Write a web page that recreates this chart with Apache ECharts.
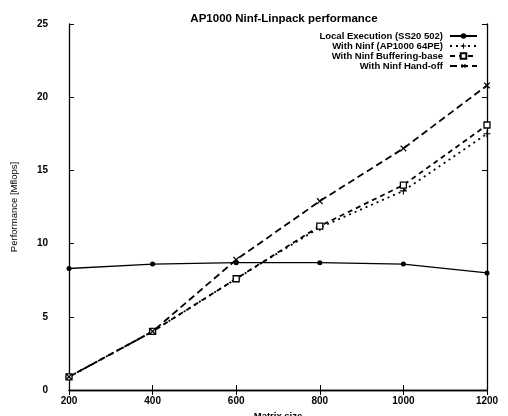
<!DOCTYPE html>
<html><head><meta charset="utf-8">
<script src="https://cdn.jsdelivr.net/npm/echarts@6/dist/echarts.min.js"></script>
<style>html,body{margin:0;padding:0;background:#fff}#c{width:508px;height:416px}</style>
</head><body><div id="c"></div>
<script>
var matrixSizes = [200, 400, 600, 800, 1000, 1200];
var localExec = [8.3, 8.6, 8.7, 8.7, 8.6, 8.0];
var ninfAP1000 = [0.9, 4.0, 7.6, 11.1, 13.6, 17.5];
var ninfBuffering = [0.9, 4.0, 7.6, 11.2, 14.0, 18.1];
var ninfHandoff = [0.9, 4.0, 8.9, 12.9, 16.5, 20.8];
var seriesNames = ['Local Execution (SS20 502)', 'With Ninf (AP1000 64PE)', 'With Ninf Buffering-base', 'With Ninf Hand-off'];

function pairs(v){ return matrixSizes.map(function(x,i){ return [x, v[i]]; }); }
var plus = 'path://M4.2,0h1.6v4.2h4.2v1.6h-4.2v4.2h-1.6v-4.2h-4.2v-1.6h4.2z';
var font = 'Liberation Sans';
var chart = echarts.init(document.getElementById('c'));
var axisLine = {show:true, lineStyle:{color:'#000', width:1.3}};
chart.setOption({
  animation:false,
  textStyle:{fontFamily:font},
  title:{text:'AP1000 Ninf-Linpack performance', left:279, textAlign:'center', top:8,
    textStyle:{fontFamily:font, fontSize:11.5, fontWeight:'bold', color:'#000'}},
  legend:{orient:'vertical', right:25, top:26, align:'right', itemWidth:27, itemHeight:7, itemGap:0,
    textStyle:{fontFamily:font, fontSize:9.5, lineHeight:9.7, fontWeight:'bold', color:'#000', padding:[0,2,0,0]},
    data:seriesNames},
  grid:{left:69, right:21, top:24, bottom:26, outerBoundsMode:'none', containLabel:false},
  xAxis:[{type:'value', min:200, max:1200, interval:200, name:'Matrix size', nameLocation:'middle', nameGap:18,
    nameTextStyle:{fontFamily:font, fontSize:9.5, fontWeight:'bold', color:'#000'},
    axisLine:axisLine, axisTick:{inside:true, length:5, lineStyle:{color:'#000'}},
    axisLabel:{fontFamily:font, fontSize:10, fontWeight:'bold', color:'#000', margin:6,
      formatter:function(v){ return String(v); }},
    splitLine:{show:false}},
    {type:'value', position:'top', min:200, max:1200, interval:200,
    axisLine:axisLine, axisTick:{inside:true, length:5, lineStyle:{color:'#000'}},
    axisLabel:{show:false}, splitLine:{show:false}}],
  yAxis:[{type:'value', min:0, max:25, interval:5, name:'Performance [Mflops]', nameLocation:'middle', nameGap:50,
    nameTextStyle:{fontFamily:font, fontSize:9.5, color:'#000'},
    axisLine:axisLine, axisTick:{inside:true, length:5, lineStyle:{color:'#000'}},
    axisLabel:{fontFamily:font, fontSize:10, fontWeight:'bold', color:'#000', margin:21},
    splitLine:{show:false}},
    {type:'value', position:'right', min:0, max:25, interval:5,
    axisLine:axisLine, axisTick:{inside:true, length:5, lineStyle:{color:'#000'}},
    axisLabel:{show:false}, splitLine:{show:false}}],
  series:[
    {name:seriesNames[0], type:'line', data:pairs(localExec), symbol:'circle', symbolSize:5,
      lineStyle:{color:'#000', width:1.4}, itemStyle:{color:'#000'}},
    {name:seriesNames[1], type:'line', data:pairs(ninfAP1000), symbol:plus, symbolSize:7,
      lineStyle:{color:'#000', width:1.8, type:[2,4]}, itemStyle:{color:'#000'}},
    {name:seriesNames[2], type:'line', data:pairs(ninfBuffering), symbol:'rect', symbolSize:6,
      lineStyle:{color:'#000', width:1.8, type:[5,4]}, itemStyle:{color:'#fff', borderColor:'#000', borderWidth:1.3}},
    {name:seriesNames[3], type:'line', data:pairs(ninfHandoff), symbol:plus, symbolSize:8, symbolRotate:45,
      lineStyle:{color:'#000', width:1.8, type:[7,4]}, itemStyle:{color:'#000'}}
  ]
});
</script></body></html>
